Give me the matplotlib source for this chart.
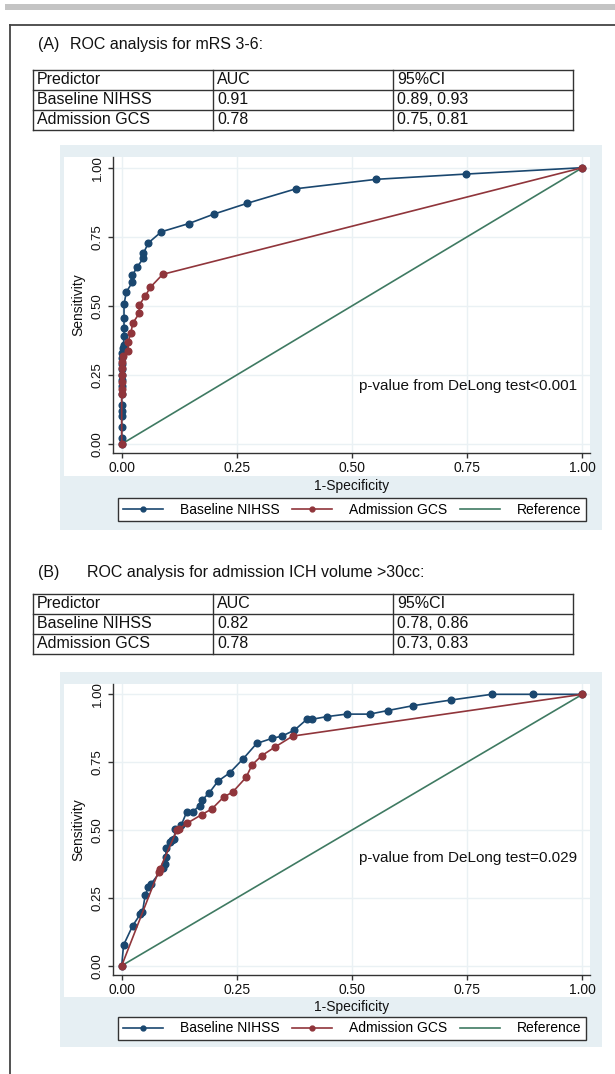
import matplotlib
matplotlib.use("Agg")
import matplotlib.pyplot as plt
from matplotlib.patches import Rectangle
from matplotlib.lines import Line2D

plt.rcParams['font.family'] = ['Liberation Sans', 'DejaVu Sans']

# ---------------- data ----------------
table_header = ["Predictor", "AUC", "95%CI"]
predictors = ["Baseline NIHSS", "Admission GCS"]
auc_a = ["0.91", "0.78"]
ci_a = ["0.89, 0.93", "0.75, 0.81"]
auc_b = ["0.82", "0.78"]
ci_b = ["0.78, 0.86", "0.73, 0.83"]
label_a = "(A)"
label_b = "(B)"
title_a = "ROC analysis for mRS 3-6:"
title_b = "ROC analysis for admission ICH volume >30cc:"
pval_a = "p-value from DeLong test<0.001"
pval_b = "p-value from DeLong test=0.029"
ticks = [0, 0.25, 0.5, 0.75, 1.0]
tick_labels = ["0.00", "0.25", "0.50", "0.75", "1.00"]
xlabel = "1-Specificity"
ylabel = "Sensitivity"
legend_labels = ["Baseline NIHSS", "Admission GCS", "Reference"]
ref_x = [0, 1]
ref_y = [0, 1]

# Panel A: mRS 3-6
nihss_a_x = [0, 0, 0, 0, 0, 0, 0, 0, 0, 0, 0, 0, 0, 0,
             0.002, 0.004, 0.005, 0.005, 0.005, 0.005, 0.010, 0.023, 0.023,
             0.034, 0.047, 0.047, 0.058, 0.086, 0.146, 0.200, 0.272, 0.379,
             0.553, 0.748, 1.0]
nihss_a_y = [0, 0.02, 0.06, 0.10, 0.12, 0.14, 0.18, 0.21, 0.23, 0.25, 0.27, 0.29, 0.31, 0.33,
             0.346, 0.36, 0.39, 0.42, 0.455, 0.505, 0.55, 0.585, 0.61,
             0.642, 0.672, 0.69, 0.728, 0.768, 0.798, 0.832, 0.871, 0.924,
             0.958, 0.977, 1.0]
gcs_a_x = [0, 0, 0, 0, 0, 0, 0, 0.003, 0.014, 0.014, 0.020, 0.024, 0.038, 0.038,
           0.051, 0.062, 0.089, 1.0]
gcs_a_y = [0, 0.18, 0.20, 0.225, 0.25, 0.275, 0.295, 0.32, 0.338, 0.37, 0.403, 0.437, 0.473, 0.503,
           0.535, 0.567, 0.614, 1.0]

# Panel B: ICH volume > 30cc
nihss_b_x = [0, 0.004, 0.024, 0.040, 0.045, 0.051, 0.058, 0.063, 0.090, 0.093, 0.096, 0.096,
             0.105, 0.110, 0.114, 0.116, 0.129, 0.141, 0.154, 0.169, 0.174, 0.190, 0.209,
             0.234, 0.264, 0.293, 0.327, 0.348, 0.375, 0.402, 0.413, 0.446, 0.488, 0.538,
             0.577, 0.632, 0.715, 0.803, 0.893, 1.0]
nihss_b_y = [0, 0.076, 0.148, 0.189, 0.197, 0.26, 0.29, 0.30, 0.36, 0.374, 0.402, 0.435,
             0.454, 0.464, 0.467, 0.504, 0.517, 0.566, 0.566, 0.59, 0.609, 0.637, 0.68,
             0.71, 0.763, 0.819, 0.838, 0.846, 0.868, 0.908, 0.908, 0.918, 0.927, 0.927,
             0.94, 0.958, 0.979, 1.0, 1.0, 1.0]
gcs_b_x = [0, 0.080, 0.083, 0.120, 0.125, 0.141, 0.174, 0.196, 0.221, 0.241, 0.270, 0.283,
           0.304, 0.332, 0.371, 1.0]
gcs_b_y = [0, 0.347, 0.357, 0.50, 0.504, 0.524, 0.557, 0.578, 0.621, 0.64, 0.694, 0.740,
           0.774, 0.805, 0.846, 1.0]

# ---------------- style ----------------
NAVY = "#1a476f"
MAROON = "#90353b"
GREEN = "#3f7a62"
PANEL = "#e6eff3"
GRID = "#eaf1f4"
LINEC = "#333333"

W, H = 615, 1074
fig = plt.figure(figsize=(W / 100, H / 100), dpi=100)
fig.patch.set_facecolor("white")


def fx(x):
    return x / W


def fy(y):
    return 1 - y / H


def rect(x0, y0, x1, y1, color):
    fig.add_artist(Rectangle((fx(x0), fy(y1)), fx(x1) - fx(x0), fy(y0) - fy(y1),
                             transform=fig.transFigure, facecolor=color,
                             edgecolor="none", zorder=0))


def hline(x0, x1, y, lw=1.0, color=LINEC):
    fig.add_artist(Line2D([fx(x0), fx(x1)], [fy(y), fy(y)], transform=fig.transFigure,
                          color=color, lw=lw, zorder=2))


def vline(x, y0, y1, lw=1.0, color=LINEC):
    fig.add_artist(Line2D([fx(x), fx(x)], [fy(y0), fy(y1)], transform=fig.transFigure,
                          color=color, lw=lw, zorder=2))


# top grey bar and outer frame
rect(5, 4, 615, 10, "#c4c4c4")
hline(10, 615, 25, lw=1.3, color="#444444")
vline(10, 25, 1074, lw=1.3, color="#444444")


def draw_table(top, row_h, cols, rows):
    left, right = cols[0], cols[-1]
    n = len(rows)
    for i in range(n + 1):
        hline(left, right, top + i * row_h)
    for c in cols:
        vline(c, top, top + n * row_h)
    for i, row in enumerate(rows):
        for j, txt in enumerate(row):
            fig.text(fx(cols[j] + 4), fy(top + (i + 0.5) * row_h), txt,
                     fontsize=11.5, va="center", ha="left", color="#111111")


def draw_panel(ptop, pbot, ax_box, ylim, nx, ny, gx, gy, pval, pval_y, xlab_y, leg_y):
    # background
    rect(60, ptop, 602, pbot, PANEL)
    rect(64, ptop + 12, 590, xlab_y - 10, "white")
    l, t, r, b = ax_box
    ax = fig.add_axes([fx(l), fy(b), fx(r) - fx(l), fy(t) - fy(b)])
    ax.set_facecolor("white")
    ax.set_xlim(-0.0189, 1.0165)
    ax.set_ylim(*ylim)
    for s in ["top", "right"]:
        ax.spines[s].set_visible(False)
    for s in ["left", "bottom"]:
        ax.spines[s].set_color(LINEC)
        ax.spines[s].set_linewidth(1.0)
    ax.set_xticks(ticks)
    ax.set_xticklabels(tick_labels, fontsize=10)
    ax.set_yticks(ticks)
    ax.set_yticklabels(tick_labels, fontsize=9.5, rotation=90, va="center")
    ax.tick_params(axis="both", direction="out", length=3.6, width=1.0, color=LINEC,
                   labelcolor="#111111")
    ax.tick_params(axis="x", pad=2)
    ax.tick_params(axis="y", pad=3)
    ax.grid(True, color=GRID, lw=1.0)
    ax.set_axisbelow(True)

    ax.plot(ref_x, ref_y, color=GREEN, lw=1.2, zorder=2)
    ax.plot(nx, ny, color=NAVY, lw=1.2, marker="o", ms=4.8, mfc=NAVY, mec=NAVY, zorder=3,
            clip_on=False)
    ax.plot(gx, gy, color=MAROON, lw=1.2, marker="o", ms=4.8, mfc=MAROON, mec=MAROON,
            zorder=4, clip_on=False)
    ax.text(0.515, pval_y, pval, fontsize=11, va="center", ha="left", color="#111111")

    fig.text(fx(78), fy((t + b) / 2), ylabel, rotation=90, fontsize=10,
             ha="center", va="center", color="#111111")
    fig.text(fx(352), fy(xlab_y), xlabel, fontsize=10, ha="center", va="center",
             color="#111111")

    handles = [Line2D([], [], color=NAVY, lw=1.2, marker="o", ms=3.5),
               Line2D([], [], color=MAROON, lw=1.2, marker="o", ms=3.5),
               Line2D([], [], color=GREEN, lw=1.2)]
    leg = fig.legend(handles, legend_labels, loc="center", ncol=3, mode="expand",
                     bbox_to_anchor=(fx(118), fy(leg_y + 25), fx(586) - fx(118), fy(leg_y) - fy(leg_y + 25)),
                     bbox_transform=fig.transFigure, frameon=True, fancybox=False,
                     edgecolor="#333333", framealpha=1, fontsize=10, handlelength=2.9,
                     handletextpad=1.2, borderaxespad=0, borderpad=0.35, columnspacing=1.0)
    leg.get_frame().set_linewidth(1.0)
    return ax


# ---------------- Panel A ----------------
fig.text(fx(38), fy(45), label_a, fontsize=11.5, va="center", ha="left", color="#111111")
fig.text(fx(70), fy(45), title_a, fontsize=11.5, va="center", ha="left", color="#111111")
cols = [33, 213, 393, 573]
draw_table(70, 20, cols, [table_header,
                          [predictors[0], auc_a[0], ci_a[0]],
                          [predictors[1], auc_a[1], ci_a[1]]])
draw_panel(145, 530, (113, 157, 590, 453), (-0.0326, 1.0387),
           nihss_a_x, nihss_a_y, gcs_a_x, gcs_a_y, pval_a, 0.21, 486, 497)

# ---------------- Panel B ----------------
fig.text(fx(38), fy(573), label_b, fontsize=11.5, va="center", ha="left", color="#111111")
fig.text(fx(87), fy(573), title_b, fontsize=11.5, va="center", ha="left", color="#111111")
draw_table(594, 20, cols, [table_header,
                           [predictors[0], auc_b[0], ci_b[0]],
                           [predictors[1], auc_b[1], ci_b[1]]])
draw_panel(672, 1047, (113, 684, 590, 975), (-0.0343, 1.038),
           nihss_b_x, nihss_b_y, gcs_b_x, gcs_b_y, pval_b, 0.397, 1007, 1016)

fig.savefig("out.png", dpi=100)
